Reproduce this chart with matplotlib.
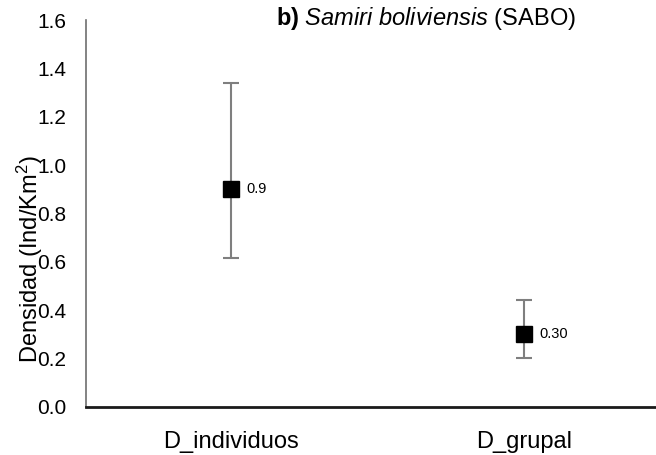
import matplotlib
matplotlib.use("Agg")
import matplotlib.pyplot as plt

plt.rcParams['font.family'] = ['Liberation Sans', 'DejaVu Sans']
plt.rcParams['mathtext.fontset'] = 'custom'
plt.rcParams['mathtext.rm'] = 'Liberation Sans'
plt.rcParams['mathtext.it'] = 'Liberation Sans:italic'
plt.rcParams['mathtext.bf'] = 'Liberation Sans:bold'

categories = ["D_individuos", "D_grupal"]
density = [0.9, 0.30]
lower = [0.615, 0.203]
upper = [1.34, 0.443]
value_labels = ["0.9", "0.30"]
yticks = [0.0, 0.2, 0.4, 0.6, 0.8, 1.0, 1.2, 1.4, 1.6]

fig = plt.figure(figsize=(6.56, 4.55), dpi=100)
ax = fig.add_axes([86 / 656, 48 / 455, 1 - 86 / 656, (407 - 20) / 455])

x = list(range(len(categories)))
yerr = [[d - lo for d, lo in zip(density, lower)],
        [up - d for d, up in zip(density, upper)]]
ax.errorbar(x, density, yerr=yerr, fmt='s', color='black', ms=11,
            ecolor='#7f7f7f', elinewidth=1.5, capsize=6, capthick=1.5, zorder=3)

for xi, d, lab in zip(x, density, value_labels):
    ax.annotate(lab, (xi, d), xytext=(11, 0), textcoords='offset points',
                va='center', ha='left', fontsize=10.5)

ax.set_xlim(-0.495, 1.45)
ax.set_ylim(0, 1.6)
ax.set_xticks(x)
ax.set_xticklabels(categories, fontsize=17)
ax.set_yticks(yticks)
ax.set_yticklabels([f"{t:.1f}" for t in yticks], fontsize=15)
ax.tick_params(axis='both', length=0)
ax.tick_params(axis='y', pad=14)
ax.tick_params(axis='x', pad=17)

for s in ['top', 'right']:
    ax.spines[s].set_visible(False)
ax.spines['left'].set_color('#6e6e6e')
ax.spines['left'].set_linewidth(1.2)
ax.spines['bottom'].set_color('#1a1a1a')
ax.spines['bottom'].set_linewidth(2)

fig.text(30 / 656, 1 - 259 / 455, r'Densidad (Ind/Km$^2$)', rotation=90,
         ha='center', va='center', fontsize=17)
fig.text(276 / 656, 1 - 19 / 455,
         r'$\mathbf{b)}$ $\mathit{Samiri\ boliviensis}$ (SABO)',
         ha='left', va='center', fontsize=17)

fig.savefig('out.png', dpi=100)
